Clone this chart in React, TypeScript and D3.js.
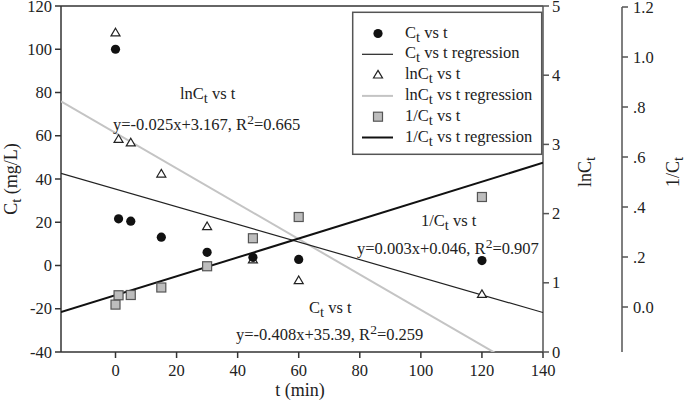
import React from "react";
import * as d3 from "d3";

// ---- data ----
const timeValues = [0, 1, 5, 15, 30, 45, 60, 120];
const ctValues = [100, 21.6, 20.5, 13.1, 6.1, 3.8, 2.8, 2.3];
const lnCtValues = [4.61, 3.07, 3.02, 2.57, 1.81, 1.33, 1.03, 0.83];
const invCtValues = [0.0096, 0.047, 0.048, 0.078, 0.163, 0.275, 0.36, 0.44];

const xTicks = [0, 20, 40, 60, 80, 100, 120, 140];
const leftTicks = [-40, -20, 0, 20, 40, 60, 80, 100, 120];
const lnTicks = [0, 1, 2, 3, 4, 5];
const invTicks = [0, 0.2, 0.4, 0.6, 0.8, 1.0, 1.2];
const invTickLabels = ["0.0", ".2", ".4", ".6", ".8", "1.0", "1.2"];

const eqCt = { title: "vs t", eq: "y=-0.408x+35.39, R", r2: "=0.259" };
const eqLn = { eq: "y=-0.025x+3.167, R", r2: "=0.665" };
const eqInv = { eq: "y=0.003x+0.046, R", r2: "=0.907" };

function linReg(xs: number[], ys: number[]) {
  const n = xs.length;
  const mx = d3.mean(xs)!;
  const my = d3.mean(ys)!;
  let sxy = 0, sxx = 0;
  for (let i = 0; i < n; i++) {
    sxy += (xs[i] - mx) * (ys[i] - my);
    sxx += (xs[i] - mx) * (xs[i] - mx);
  }
  const slope = sxy / sxx;
  return { slope, intercept: my - slope * mx };
}

const FONT = "'Liberation Serif', 'Times New Roman', serif";
const FS = 16.5;

const Sub = ({ pre, post }: { pre: string; post: string }) => (
  <>
    <tspan>{pre}</tspan>
    <tspan dy={4} fontSize={14.5}>t</tspan>
    <tspan dy={-4}>{post}</tspan>
  </>
);

const Sup = ({ pre, post }: { pre: string; post: string }) => (
  <>
    <tspan>{pre}</tspan>
    <tspan dy={-6} fontSize={13.5}>2</tspan>
    <tspan dy={6}>{post}</tspan>
  </>
);

export default function App() {
  const W = 685, H = 404;
  const left = 61, right = 543, top = 6, bottom = 352;
  const x = d3.scaleLinear().domain([-17.85, 140]).range([left, right]);
  const yL = d3.scaleLinear().domain([-40, 120]).range([bottom, top]);
  const yLn = d3.scaleLinear().domain([0, 5]).range([bottom, top]);
  const yInv = d3.scaleLinear().domain([-0.18, 1.2]).range([bottom, 7]);

  const regCt = linReg(timeValues, ctValues);
  const regLn = linReg(timeValues, lnCtValues);
  const regInv = linReg(timeValues, invCtValues);
  const [x0, x1] = x.domain();

  const lineFor = (reg: { slope: number; intercept: number }, ys: d3.ScaleLinear<number, number>) =>
    d3.line<number>().x((t) => x(t)).y((t) => ys(reg.slope * t + reg.intercept))([x0, x1]) || "";

  const axisColor = "#333";
  const grayLine = "#c4c4c4";
  const sqFill = "#bdbdbd";
  const sqStroke = "#555";

  const tri = (cx: number, cy: number, s = 9) => {
    const h = s * 0.85;
    return `M${cx},${cy - h * 0.62}L${cx + s / 2},${cy + h * 0.38}L${cx - s / 2},${cy + h * 0.38}Z`;
  };

  const legY = (i: number) => 33.5 + i * 20.8;
  const legSymX = 378;
  const legTextX = 405;

  const legendItems = [
    ["C", " vs t"],
    ["C", " vs t regression"],
    ["lnC", " vs t"],
    ["lnC", " vs t regression"],
    ["1/C", " vs t"],
    ["1/C", " vs t regression"],
  ];

  return (
    <svg
      width={W}
      height={H}
      style={{ position: "absolute", left: 0, top: 0, background: "#fff" }}
      fontFamily={FONT}
      fontSize={FS}
    >
      <defs>
        <clipPath id="plot">
          <rect x={left} y={top} width={right - left} height={bottom - top} />
        </clipPath>
      </defs>
      <rect x={0} y={0} width={W} height={H} fill="#fff" />

      {/* frame */}
      <line x1={left} x2={right} y1={top} y2={top} stroke={axisColor} strokeWidth={1.5} />
      <line x1={left} x2={right} y1={bottom} y2={bottom} stroke={axisColor} strokeWidth={1.5} />
      <line x1={left} x2={left} y1={top} y2={bottom} stroke={axisColor} strokeWidth={1.5} />
      <line x1={right} x2={right} y1={top} y2={bottom} stroke="#555" strokeWidth={1.5} />

      {/* x ticks */}
      {xTicks.map((t) => (
        <g key={"xt" + t}>
          <line x1={x(t)} x2={x(t)} y1={bottom} y2={bottom + 6} stroke={axisColor} strokeWidth={1.5} />
          <text x={x(t)} y={bottom + 24} textAnchor="middle" fill="#222">
            {t}
          </text>
        </g>
      ))}

      {/* left ticks */}
      {leftTicks.map((v) => (
        <g key={"yl" + v}>
          <line x1={left - 6} x2={left} y1={yL(v)} y2={yL(v)} stroke={axisColor} strokeWidth={1.5} />
          <text x={left - 9} y={yL(v) + 5.5} textAnchor="end" fill="#222">
            {v}
          </text>
        </g>
      ))}

      {/* ln ticks */}
      {lnTicks.map((v) => (
        <g key={"ln" + v}>
          <line x1={right} x2={right + 6} y1={yLn(v)} y2={yLn(v)} stroke="#555" strokeWidth={1.5} />
          <text x={right + 9} y={yLn(v) + 5.5} textAnchor="start" fill="#222">
            {v}
          </text>
        </g>
      ))}

      {/* 1/C axis */}
      <line x1={622} x2={622} y1={yInv(1.2)} y2={bottom} stroke="#555" strokeWidth={1.5} />
      {invTicks.map((v, i) => (
        <g key={"inv" + v}>
          <line x1={622} x2={628} y1={yInv(v)} y2={yInv(v)} stroke="#555" strokeWidth={1.5} />
          <text x={633} y={yInv(v) + 5.5} textAnchor="start" fill="#222">
            {invTickLabels[i]}
          </text>
        </g>
      ))}

      {/* axis titles */}
      <text x={300} y={396} textAnchor="middle" fontSize={18} fill="#222">
        t (min)
      </text>
      <text transform={`translate(17,${(top + bottom) / 2}) rotate(-90)`} textAnchor="middle" fontSize={18} fill="#222">
        <Sub pre="C" post=" (mg/L)" />
      </text>
      <text transform="translate(591,172) rotate(-90)" textAnchor="middle" fontSize={18} fill="#222">
        <Sub pre="lnC" post="" />
      </text>
      <text transform="translate(679,172) rotate(-90)" textAnchor="middle" fontSize={18} fill="#222">
        <Sub pre="1/C" post="" />
      </text>

      {/* regression lines */}
      <g clipPath="url(#plot)">
        <path d={lineFor(regLn, yLn)} stroke={grayLine} strokeWidth={2} fill="none" />
        <path d={lineFor(regCt, yL)} stroke="#222" strokeWidth={1.2} fill="none" />
        <path d={lineFor(regInv, yInv)} stroke="#111" strokeWidth={2} fill="none" />
      </g>

      {/* markers */}
      {timeValues.map((t, i) => (
        <rect
          key={"sq" + i}
          x={x(t) - 4.5}
          y={yInv(invCtValues[i]) - 4.5}
          width={9}
          height={9}
          fill={sqFill}
          stroke={sqStroke}
          strokeWidth={1.2}
        />
      ))}
      {timeValues.map((t, i) => (
        <path key={"tr" + i} d={tri(x(t), yLn(lnCtValues[i]))} fill="#fff" stroke="#222" strokeWidth={1.2} />
      ))}
      {timeValues.map((t, i) => (
        <circle key={"c" + i} cx={x(t)} cy={yL(ctValues[i])} r={4.6} fill="#111" />
      ))}

      {/* annotations */}
      <text x={180} y={99} fill="#222">
        <Sub pre="lnC" post=" vs t" />
      </text>
      <text x={113} y={130} fill="#222">
        <Sup pre={eqLn.eq} post={eqLn.r2} />
      </text>
      <text x={421} y={226} fill="#222">
        <Sub pre="1/C" post=" vs t" />
      </text>
      <text x={357} y={254} fill="#222">
        <Sup pre={eqInv.eq} post={eqInv.r2} />
      </text>
      <text x={309} y={313} fill="#222">
        <Sub pre="C" post={" " + eqCt.title} />
      </text>
      <text x={236} y={340} fill="#222">
        <Sup pre={eqCt.eq} post={eqCt.r2} />
      </text>

      {/* legend */}
      <rect x={352.7} y={12.3} width={189} height={142} fill="#fff" stroke="#555" strokeWidth={1.5} />
      <circle cx={legSymX} cy={legY(0)} r={4.6} fill="#111" />
      <line x1={362} x2={393} y1={legY(1)} y2={legY(1)} stroke="#222" strokeWidth={1.2} />
      <path d={tri(legSymX, legY(2))} fill="#fff" stroke="#222" strokeWidth={1.2} />
      <line x1={362} x2={393} y1={legY(3)} y2={legY(3)} stroke={grayLine} strokeWidth={2} />
      <rect x={legSymX - 4.5} y={legY(4) - 4.5} width={9} height={9} fill={sqFill} stroke={sqStroke} strokeWidth={1.2} />
      <line x1={362} x2={393} y1={legY(5)} y2={legY(5)} stroke="#111" strokeWidth={2} />
      {legendItems.map(([pre, post], i) => (
        <text key={"lt" + i} x={legTextX} y={legY(i) + 4} fill="#222">
          <Sub pre={pre} post={post} />
        </text>
      ))}
    </svg>
  );
}
